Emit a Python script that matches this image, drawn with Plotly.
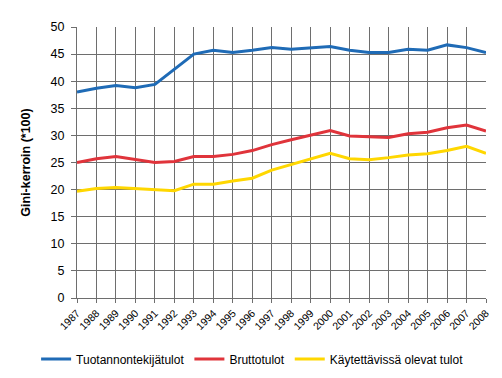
import plotly.graph_objects as go

years = list(range(1987, 2009))
tuotannontekija = [38.0, 38.7, 39.2, 38.8, 39.4, 42.2, 45.0, 45.7, 45.3, 45.7, 46.2,
                   45.9, 46.2, 46.4, 45.7, 45.3, 45.3, 45.9, 45.7, 46.7, 46.2, 45.3]
brutto = [25.0, 25.7, 26.1, 25.5, 25.0, 25.2, 26.1, 26.1, 26.5, 27.2, 28.3,
          29.2, 30.1, 30.9, 29.9, 29.7, 29.6, 30.3, 30.6, 31.4, 31.9, 30.8]
kaytettavissa = [19.7, 20.2, 20.4, 20.2, 20.0, 19.8, 21.0, 21.0, 21.6, 22.1, 23.6,
                 24.6, 25.7, 26.7, 25.7, 25.5, 25.9, 26.4, 26.6, 27.2, 28.0, 26.7]
names = ["Tuotannontekijätulot", "Bruttotulot", "Käytettävissä olevat tulot"]
colors = ["#1F6BB6", "#E0343B", "#FFD700"]

fig = go.Figure()
for name, vals, c in zip(names, [tuotannontekija, brutto, kaytettavissa], colors):
    fig.add_trace(go.Scatter(x=years, y=vals, mode="lines", name=name,
                             line=dict(color=c, width=3)))

font = "Liberation Sans, Arial, sans-serif"
fig.update_layout(
    width=502, height=378,
    margin=dict(l=69, r=24, t=16, b=83),
    paper_bgcolor="white", plot_bgcolor="white",
    font=dict(family=font, size=12, color="black"),
    showlegend=True,
    legend=dict(orientation="h", x=-0.1, xanchor="left", y=-0.225, yanchor="middle",
                font=dict(size=12), itemwidth=30, traceorder="normal",
                tracegroupgap=0),
)
fig.update_xaxes(
    range=[1987, 2008], tickmode="array", tickvals=years,
    ticktext=[str(y) for y in years], tickangle=-45,
    tickfont=dict(size=10.5), showgrid=True, gridcolor="#6e6e6e", gridwidth=1,
    showline=True, linecolor="#6e6e6e", mirror=False,
    ticks="outside", ticklen=4, tickcolor="#6e6e6e", zeroline=False,
)
fig.update_yaxes(
    range=[0, 50], dtick=5, tickfont=dict(size=12.5),
    showgrid=True, gridcolor="#6e6e6e", gridwidth=1,
    showline=True, linecolor="#6e6e6e",
    ticks="outside", ticklen=5, tickcolor="#6e6e6e", zeroline=False,
    ticklabelstandoff=4,
    title=dict(text="<b>Gini-kerroin (*100)</b>", font=dict(size=12.5), standoff=17),
)
fig.write_html("out.html")
